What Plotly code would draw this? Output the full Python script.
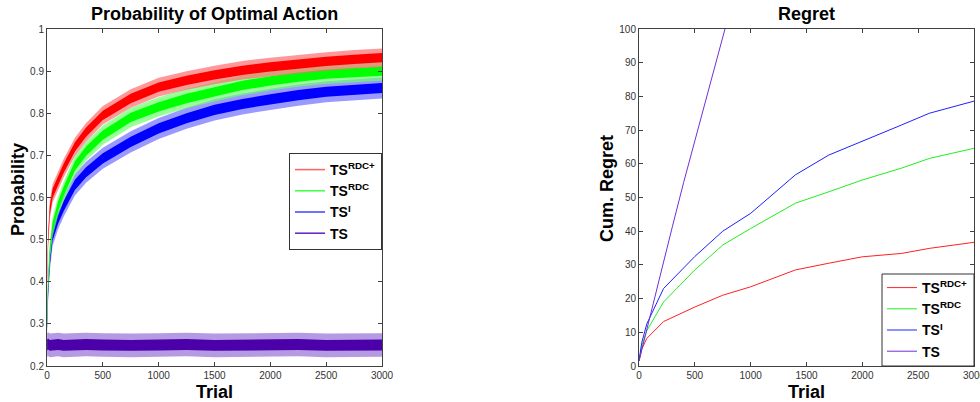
import plotly.graph_objects as go

# ---------------- data: Probability of Optimal Action ----------------
trials_p = [1, 10, 25, 50, 100, 150, 250, 350, 500, 750, 1000, 1250, 1500, 1750, 2000, 2250, 2500, 2750, 3000]
prob_rdc_plus = [0.40, 0.50, 0.57, 0.61, 0.64, 0.67, 0.72, 0.755, 0.795, 0.835, 0.862, 0.878, 0.891, 0.902, 0.910, 0.917, 0.923, 0.928, 0.932]
prob_rdc = [0.30, 0.40, 0.47, 0.53, 0.58, 0.615, 0.675, 0.71, 0.748, 0.79, 0.815, 0.835, 0.851, 0.866, 0.877, 0.886, 0.893, 0.897, 0.900]
prob_i = [0.30, 0.38, 0.45, 0.51, 0.55, 0.58, 0.63, 0.66, 0.693, 0.732, 0.764, 0.788, 0.808, 0.822, 0.833, 0.843, 0.851, 0.856, 0.860]
prob_ts = [0.25, 0.252, 0.249, 0.250, 0.251, 0.249, 0.250, 0.251, 0.250, 0.249, 0.250, 0.251, 0.249, 0.250, 0.250, 0.251, 0.249, 0.250, 0.250]
# observed half-widths of the noisy bands (core, spikes)
band_core = [0.011, 0.011, 0.012, 0.013]
band_outer = [0.022, 0.023, 0.025, 0.028]

# ---------------- data: Cumulative regret ----------------
trials_r = [0, 25, 70, 220, 500, 750, 1000, 1400, 1700, 2000, 2350, 2600, 3000]
reg_rdc_plus = [1.5, 5, 8.2, 13.2, 17.5, 21, 23.5, 28.5, 30.5, 32.4, 33.4, 34.9, 36.7]
reg_rdc = [1.5, 6, 10.5, 19, 28.5, 35.9, 40.8, 48.3, 51.7, 55.2, 58.7, 61.6, 64.6]
reg_i = [1.5, 7, 12.5, 23, 32.5, 40, 45.3, 56.7, 62.6, 66.6, 71.5, 75, 78.6]
trials_ts = [0, 100, 200, 300, 400, 500, 600, 700, 770, 800]
reg_ts = [1.5, 15, 28.5, 41.5, 54.5, 67, 79.5, 91.5, 100, 103.5]

x_ticks = [0, 500, 1000, 1500, 2000, 2500, 3000]

names = ["<b>TS<sup>RDC+</sup></b>", "<b>TS<sup>RDC</sup></b>", "<b>TS<sup>I</sup></b>", "<b>TS</b>"]
colors = ["#ff0000", "#00ff00", "#0000ff", "#4b00aa"]
light = ["rgba(255,110,110,0.7)", "rgba(110,255,110,0.7)", "rgba(110,110,255,0.7)", "rgba(150,110,215,0.7)"]
legend_colors = ["#ff6060", "#40ff40", "#4040ff", "#6020c0"]

FONT = "Liberation Sans, Arial, sans-serif"
fig = go.Figure()

prob_series = [prob_rdc_plus, prob_rdc, prob_i, prob_ts]
order = [3, 2, 1, 0]
for k in order:
    c = prob_series[k]
    for hw, col in ((band_outer[k], light[k]), (band_core[k], colors[k])):
        lo = [v - hw for v in c]
        hi = [v + hw for v in c]
        fig.add_trace(go.Scatter(x=trials_p, y=lo, mode="lines", line=dict(width=0, color=col),
                                 showlegend=False, hoverinfo="skip", xaxis="x", yaxis="y"))
        fig.add_trace(go.Scatter(x=trials_p, y=hi, mode="lines", line=dict(width=0, color=col),
                                 fill="tonexty", fillcolor=col, showlegend=False,
                                 hoverinfo="skip", xaxis="x", yaxis="y"))

# legend entries for left panel
for k in range(4):
    fig.add_trace(go.Scatter(x=[None], y=[None], mode="lines", name=names[k],
                             line=dict(color=legend_colors[k], width=1.5), xaxis="x", yaxis="y",
                             legend="legend"))

# right panel
reg_x = [trials_r, trials_r, trials_r, trials_ts]
reg_series = [reg_rdc_plus, reg_rdc, reg_i, reg_ts]
reg_colors = ["#ff2020", "#20ee20", "#2020ff", "#7030d8"]
for k in range(4):
    fig.add_trace(go.Scatter(x=reg_x[k], y=reg_series[k], mode="lines", name=names[k],
                             line=dict(color=reg_colors[k], width=1),
                             xaxis="x2", yaxis="y2", legend="legend2"))

axis_common = dict(showline=True, linecolor="#404040", linewidth=1, mirror="ticks",
                   ticks="inside", ticklen=4, tickcolor="#404040", showgrid=False,
                   zeroline=False, automargin=False, ticklabeloverflow="allow",
                   tickfont=dict(family=FONT, size=10, color="#333333"))

fig.update_layout(
    width=980, height=402,
    margin=dict(l=0, r=0, t=0, b=0, autoexpand=False),
    paper_bgcolor="white", plot_bgcolor="white",
    xaxis=dict(domain=[47/980, 382/980], range=[0, 3000], tickvals=x_ticks,
               anchor="y", **axis_common),
    yaxis=dict(domain=[1-366/402, 1-29/402], range=[0.2, 1],
               tickvals=[0.2, 0.3, 0.4, 0.5, 0.6, 0.7, 0.8, 0.9, 1.0],
               ticktext=["0.2", "0.3", "0.4", "0.5", "0.6", "0.7", "0.8", "0.9", "1"],
               anchor="x", **axis_common),
    xaxis2=dict(domain=[639/980, 974/980], range=[0, 3000], tickvals=x_ticks,
                anchor="y2", **axis_common),
    yaxis2=dict(domain=[1-366/402, 1-29/402], range=[0, 100], dtick=10,
                anchor="x2", **axis_common),
    legend=dict(x=289/980, y=1-153/402, xanchor="left", yanchor="top", traceorder="normal",
                bgcolor="white", bordercolor="#333333", borderwidth=1,
                font=dict(family=FONT, size=14, color="black"), itemwidth=30,
                tracegroupgap=0),
    legend2=dict(x=882/980, y=1-272/402, xanchor="left", yanchor="top", traceorder="normal",
                 bgcolor="rgba(0,0,0,0)", borderwidth=0,
                 font=dict(family=FONT, size=14, color="black"), itemwidth=30,
                 tracegroupgap=0),
    showlegend=True,
)

# frame of the right legend
fig.add_shape(type="rect", xref="paper", yref="paper",
              x0=882/980, x1=974/980, y0=1-366/402, y1=1-274/402,
              line=dict(color="#333333", width=1), fillcolor="white", layer="above")

ann = [
    dict(text="<b>Probability of Optimal Action</b>", x=214.5/980, y=1-14/402, size=18, angle=0),
    dict(text="<b>Regret</b>", x=806.5/980, y=1-14/402, size=18, angle=0),
    dict(text="<b>Trial</b>", x=214.5/980, y=1-392/402, size=18, angle=0),
    dict(text="<b>Trial</b>", x=806.5/980, y=1-392/402, size=18, angle=0),
    dict(text="<b>Probability</b>", x=18/980, y=1-190/402, size=18, angle=-90),
    dict(text="<b>Cum. Regret</b>", x=607/980, y=1-189/402, size=18, angle=-90),
]
for a in ann:
    fig.add_annotation(text=a["text"], x=a["x"], y=a["y"], xref="paper", yref="paper",
                       xanchor="center", yanchor="middle", showarrow=False, textangle=a["angle"],
                       font=dict(family=FONT, size=a["size"], color="black"))

fig.write_html("out.html", config={"displayModeBar": False},
               post_script="document.body.style.margin='0';document.body.style.padding='0';")
